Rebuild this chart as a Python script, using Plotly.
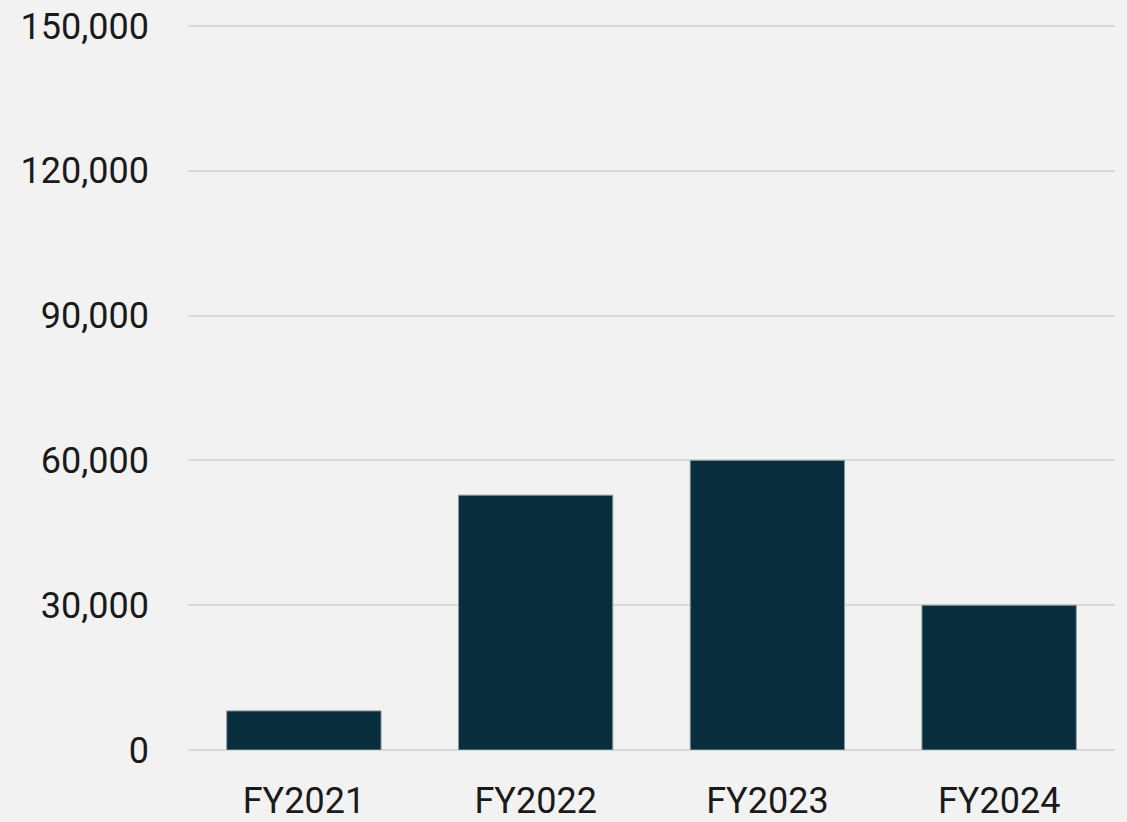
import plotly.graph_objects as go

categories = ["FY2021", "FY2022", "FY2023", "FY2024"]
values = [8100, 52800, 60000, 30000]
y_ticks = [0, 30000, 60000, 90000, 120000, 150000]
y_tick_labels = ["0", "30,000", "60,000", "90,000", "120,000", "150,000"]

fig = go.Figure(
    go.Bar(
        x=categories,
        y=values,
        marker=dict(color="#082e3e", line=dict(color="#8a9aa3", width=1)),
    )
)

fig.update_layout(
    width=1127,
    height=822,
    paper_bgcolor="#f2f2f2",
    plot_bgcolor="#f2f2f2",
    margin=dict(l=188, r=12, t=24, b=72),
    bargap=0.334,
    showlegend=False,
    font=dict(family="Roboto", size=36, color="#1a1a1a"),
)
fig.update_xaxes(
    showgrid=False,
    showline=False,
    zeroline=False,
    ticks="",
    ticklabelstandoff=26,
    automargin=False,
)
fig.update_yaxes(
    range=[0, 150400],
    tickvals=y_ticks,
    ticktext=y_tick_labels,
    showgrid=True,
    gridcolor="#d9d9d9",
    gridwidth=2,
    zeroline=True,
    zerolinecolor="#d9d9d9",
    zerolinewidth=2,
    showline=False,
    ticks="",
    ticklabelstandoff=38,
    automargin=False,
)

fig.write_html(
    "out.html",
    config={"displayModeBar": False},
    post_script="document.body.style.margin='0';document.body.style.background='#f2f2f2';",
)
